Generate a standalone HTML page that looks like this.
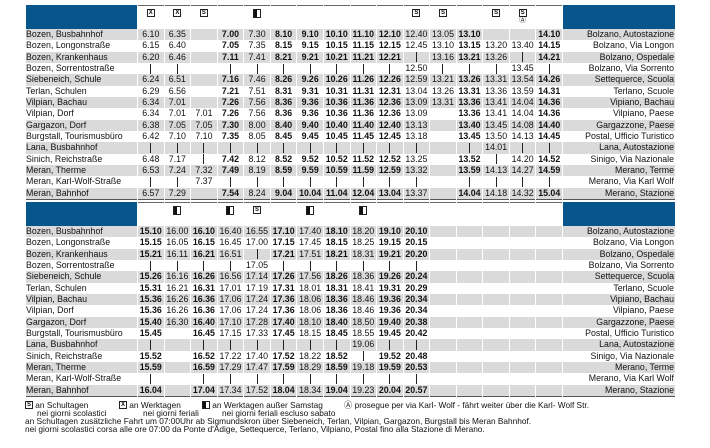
<!DOCTYPE html>
<html><head><meta charset="utf-8"><style>
body{margin:0;width:710px;height:448px;background:#fff;font-family:"Liberation Sans",Arial,sans-serif;color:#111;position:relative;overflow:hidden}
table{position:absolute;left:25px;border-collapse:separate;border-spacing:1px 0;table-layout:fixed;font-size:8.8px;width:651px}
td{padding:0;height:11.33px;line-height:11px;text-align:center;white-space:nowrap;overflow:hidden}
td.n{width:111px;text-align:left}
td.r{width:111px;text-align:right;padding-right:1px}
tr.g td{background:#dadada}
tr.h td{height:23px;background:#fff;vertical-align:top;border-top:1.5px solid #666}
tr.h td.n,tr.h td.r{background:#06568c;border-top:none}
tr.l td{border-bottom:1.5px solid #555}
#t1{top:5px}#t2{top:202px}
#t1 tr:not(.h) td:nth-child(5),#t1 tr:not(.h) td:nth-child(7),#t1 tr:not(.h) td:nth-child(8),#t1 tr:not(.h) td:nth-child(9),#t1 tr:not(.h) td:nth-child(10),#t1 tr:not(.h) td:nth-child(11),#t1 tr:not(.h) td:nth-child(14),#t1 tr:not(.h) td:nth-child(17){font-weight:bold}
#t2 tr:not(.h) td:nth-child(2),#t2 tr:not(.h) td:nth-child(4),#t2 tr:not(.h) td:nth-child(7),#t2 tr:not(.h) td:nth-child(9),#t2 tr:not(.h) td:nth-child(11),#t2 tr:not(.h) td:nth-child(12){font-weight:bold}
i{display:inline-block;width:1px;height:10px;background:#222;vertical-align:middle}
.bx{display:inline-block;width:6px;height:6px;border:1px solid #222;font-size:6px;line-height:6px;font-weight:bold;text-align:center;margin-top:3px;font-style:normal}
.hb{display:inline-block;width:6px;height:7px;border:1px solid #222;background:linear-gradient(90deg,#111 50%,#fff 50%);margin-top:3px}
.a{font-size:7px;display:block;line-height:8px}
.f{position:absolute;font-size:8.3px;line-height:8px;height:8px;white-space:nowrap}
.f .bx{margin:0;vertical-align:top;width:6px;height:6px}
.f .hb{margin:0;vertical-align:top;height:6px}
</style></head><body>
<table id="t1">
<tr class="h"><td class="n"></td><td><b class="bx">X</b></td><td><b class="bx">X</b></td><td><b class="bx">S</b></td><td></td><td><b class="hb"></b></td><td></td><td></td><td></td><td></td><td></td><td><b class="bx">S</b></td><td><b class="bx">S</b></td><td></td><td><b class="bx">S</b></td><td><b class="bx">S</b><span class="a">Ⓐ</span></td><td></td><td class="r"></td></tr>
<tr class="g"><td class="n">Bozen, Busbahnhof</td><td>6.10</td><td>6.35</td><td></td><td>7.00</td><td>7.30</td><td>8.10</td><td>9.10</td><td>10.10</td><td>11.10</td><td>12.10</td><td>12.40</td><td>13.05</td><td>13.10</td><td></td><td></td><td>14.10</td><td class="r">Bolzano, Autostazione</td></tr>
<tr><td class="n">Bozen, Longonstraße</td><td>6.15</td><td>6.40</td><td></td><td>7.05</td><td>7.35</td><td>8.15</td><td>9.15</td><td>10.15</td><td>11.15</td><td>12.15</td><td>12.45</td><td>13.10</td><td>13.15</td><td>13.20</td><td>13.40</td><td>14.15</td><td class="r">Bolzano, Via Longon</td></tr>
<tr class="g"><td class="n">Bozen, Krankenhaus</td><td>6.20</td><td>6.46</td><td></td><td>7.11</td><td>7.41</td><td>8.21</td><td>9.21</td><td>10.21</td><td>11.21</td><td>12.21</td><td><i></i></td><td>13.16</td><td>13.21</td><td>13.26</td><td><i></i></td><td>14.21</td><td class="r">Bolzano, Ospedale</td></tr>
<tr><td class="n">Bozen, Sorrentostraße</td><td><i></i></td><td><i></i></td><td></td><td><i></i></td><td><i></i></td><td><i></i></td><td><i></i></td><td><i></i></td><td><i></i></td><td><i></i></td><td>12.50</td><td><i></i></td><td><i></i></td><td><i></i></td><td>13.45</td><td><i></i></td><td class="r">Bolzano, Via Sorrento</td></tr>
<tr class="g"><td class="n">Siebeneich, Schule</td><td>6.24</td><td>6.51</td><td></td><td>7.16</td><td>7.46</td><td>8.26</td><td>9.26</td><td>10.26</td><td>11.26</td><td>12.26</td><td>12.59</td><td>13.21</td><td>13.26</td><td>13.31</td><td>13.54</td><td>14.26</td><td class="r">Settequerce, Scuola</td></tr>
<tr><td class="n">Terlan, Schulen</td><td>6.29</td><td>6.56</td><td></td><td>7.21</td><td>7.51</td><td>8.31</td><td>9.31</td><td>10.31</td><td>11.31</td><td>12.31</td><td>13.04</td><td>13.26</td><td>13.31</td><td>13.36</td><td>13.59</td><td>14.31</td><td class="r">Terlano, Scuole</td></tr>
<tr class="g"><td class="n">Vilpian, Bachau</td><td>6.34</td><td>7.01</td><td></td><td>7.26</td><td>7.56</td><td>8.36</td><td>9.36</td><td>10.36</td><td>11.36</td><td>12.36</td><td>13.09</td><td>13.31</td><td>13.36</td><td>13.41</td><td>14.04</td><td>14.36</td><td class="r">Vipiano, Bachau</td></tr>
<tr><td class="n">Vilpian, Dorf</td><td>6.34</td><td>7.01</td><td>7.01</td><td>7.26</td><td>7.56</td><td>8.36</td><td>9.36</td><td>10.36</td><td>11.36</td><td>12.36</td><td>13.09</td><td></td><td>13.36</td><td>13.41</td><td>14.04</td><td>14.36</td><td class="r">Vilpiano, Paese</td></tr>
<tr class="g"><td class="n">Gargazon, Dorf</td><td>6.38</td><td>7.05</td><td>7.05</td><td>7.30</td><td>8.00</td><td>8.40</td><td>9.40</td><td>10.40</td><td>11.40</td><td>12.40</td><td>13.13</td><td></td><td>13.40</td><td>13.45</td><td>14.08</td><td>14.40</td><td class="r">Gargazzone, Paese</td></tr>
<tr><td class="n">Burgstall, Tourismusbüro</td><td>6.42</td><td>7.10</td><td>7.10</td><td>7.35</td><td>8.05</td><td>8.45</td><td>9.45</td><td>10.45</td><td>11.45</td><td>12.45</td><td>13.18</td><td></td><td>13.45</td><td>13.50</td><td>14.13</td><td>14.45</td><td class="r">Postal, Ufficio Turistico</td></tr>
<tr class="g"><td class="n">Lana, Busbahnhof</td><td><i></i></td><td><i></i></td><td><i></i></td><td><i></i></td><td><i></i></td><td><i></i></td><td><i></i></td><td><i></i></td><td><i></i></td><td><i></i></td><td><i></i></td><td></td><td><i></i></td><td>14.01</td><td><i></i></td><td><i></i></td><td class="r">Lana, Autostazione</td></tr>
<tr><td class="n">Sinich, Reichstraße</td><td>6.48</td><td>7.17</td><td><i></i></td><td>7.42</td><td>8.12</td><td>8.52</td><td>9.52</td><td>10.52</td><td>11.52</td><td>12.52</td><td>13.25</td><td></td><td>13.52</td><td><i></i></td><td>14.20</td><td>14.52</td><td class="r">Sinigo, Via Nazionale</td></tr>
<tr class="g"><td class="n">Meran, Therme</td><td>6.53</td><td>7.24</td><td>7.32</td><td>7.49</td><td>8.19</td><td>8.59</td><td>9.59</td><td>10.59</td><td>11.59</td><td>12.59</td><td>13.32</td><td></td><td>13.59</td><td>14.13</td><td>14.27</td><td>14.59</td><td class="r">Merano, Terme</td></tr>
<tr><td class="n">Meran, Karl-Wolf-Straße</td><td><i></i></td><td><i></i></td><td>7.37</td><td><i></i></td><td><i></i></td><td><i></i></td><td><i></i></td><td><i></i></td><td><i></i></td><td><i></i></td><td><i></i></td><td></td><td><i></i></td><td><i></i></td><td><i></i></td><td><i></i></td><td class="r">Merano, Via Karl Wolf</td></tr>
<tr class="g l"><td class="n">Meran, Bahnhof</td><td>6.57</td><td>7.29</td><td></td><td>7.54</td><td>8.24</td><td>9.04</td><td>10.04</td><td>11.04</td><td>12.04</td><td>13.04</td><td>13.37</td><td></td><td>14.04</td><td>14.18</td><td>14.32</td><td>15.04</td><td class="r">Merano, Stazione</td></tr>
</table>

<table id="t2">
<tr class="h"><td class="n"></td><td></td><td><b class="hb"></b></td><td></td><td><b class="hb"></b></td><td><b class="bx">S</b></td><td></td><td><b class="hb"></b></td><td></td><td><b class="hb"></b></td><td></td><td></td><td></td><td></td><td></td><td></td><td></td><td class="r"></td></tr>
<tr class="g"><td class="n">Bozen, Busbahnhof</td><td>15.10</td><td>16.00</td><td>16.10</td><td>16.40</td><td>16.55</td><td>17.10</td><td>17.40</td><td>18.10</td><td>18.20</td><td>19.10</td><td>20.10</td><td></td><td></td><td></td><td></td><td></td><td class="r">Bolzano, Autostazione</td></tr>
<tr><td class="n">Bozen, Longonstraße</td><td>15.15</td><td>16.05</td><td>16.15</td><td>16.45</td><td>17.00</td><td>17.15</td><td>17.45</td><td>18.15</td><td>18.25</td><td>19.15</td><td>20.15</td><td></td><td></td><td></td><td></td><td></td><td class="r">Bolzano, Via Longon</td></tr>
<tr class="g"><td class="n">Bozen, Krankenhaus</td><td>15.21</td><td>16.11</td><td>16.21</td><td>16.51</td><td><i></i></td><td>17.21</td><td>17.51</td><td>18.21</td><td>18.31</td><td>19.21</td><td>20.20</td><td></td><td></td><td></td><td></td><td></td><td class="r">Bolzano, Ospedale</td></tr>
<tr><td class="n">Bozen, Sorrentostraße</td><td><i></i></td><td><i></i></td><td><i></i></td><td><i></i></td><td>17.05</td><td><i></i></td><td><i></i></td><td><i></i></td><td><i></i></td><td><i></i></td><td><i></i></td><td></td><td></td><td></td><td></td><td></td><td class="r">Bolzano, Via Sorrento</td></tr>
<tr class="g"><td class="n">Siebeneich, Schule</td><td>15.26</td><td>16.16</td><td>16.26</td><td>16.56</td><td>17.14</td><td>17.26</td><td>17.56</td><td>18.26</td><td>18.36</td><td>19.26</td><td>20.24</td><td></td><td></td><td></td><td></td><td></td><td class="r">Settequerce, Scuola</td></tr>
<tr><td class="n">Terlan, Schulen</td><td>15.31</td><td>16.21</td><td>16.31</td><td>17.01</td><td>17.19</td><td>17.31</td><td>18.01</td><td>18.31</td><td>18.41</td><td>19.31</td><td>20.29</td><td></td><td></td><td></td><td></td><td></td><td class="r">Terlano, Scuole</td></tr>
<tr class="g"><td class="n">Vilpian, Bachau</td><td>15.36</td><td>16.26</td><td>16.36</td><td>17.06</td><td>17.24</td><td>17.36</td><td>18.06</td><td>18.36</td><td>18.46</td><td>19.36</td><td>20.34</td><td></td><td></td><td></td><td></td><td></td><td class="r">Vipiano, Bachau</td></tr>
<tr><td class="n">Vilpian, Dorf</td><td>15.36</td><td>16.26</td><td>16.36</td><td>17.06</td><td>17.24</td><td>17.36</td><td>18.06</td><td>18.36</td><td>18.46</td><td>19.36</td><td>20.34</td><td></td><td></td><td></td><td></td><td></td><td class="r">Vilpiano, Paese</td></tr>
<tr class="g"><td class="n">Gargazon, Dorf</td><td>15.40</td><td>16.30</td><td>16.40</td><td>17.10</td><td>17.28</td><td>17.40</td><td>18.10</td><td>18.40</td><td>18.50</td><td>19.40</td><td>20.38</td><td></td><td></td><td></td><td></td><td></td><td class="r">Gargazzone, Paese</td></tr>
<tr><td class="n">Burgstall, Tourismusbüro</td><td>15.45</td><td></td><td>16.45</td><td>17.15</td><td>17.33</td><td>17.45</td><td>18.15</td><td>18.45</td><td>18.55</td><td>19.45</td><td>20.42</td><td></td><td></td><td></td><td></td><td></td><td class="r">Postal, Ufficio Turistico</td></tr>
<tr class="g"><td class="n">Lana, Busbahnhof</td><td><i></i></td><td></td><td><i></i></td><td><i></i></td><td><i></i></td><td><i></i></td><td><i></i></td><td><i></i></td><td>19.06</td><td><i></i></td><td><i></i></td><td></td><td></td><td></td><td></td><td></td><td class="r">Lana, Autostazione</td></tr>
<tr><td class="n">Sinich, Reichstraße</td><td>15.52</td><td></td><td>16.52</td><td>17.22</td><td>17.40</td><td>17.52</td><td>18.22</td><td>18.52</td><td><i></i></td><td>19.52</td><td>20.48</td><td></td><td></td><td></td><td></td><td></td><td class="r">Sinigo, Via Nazionale</td></tr>
<tr class="g"><td class="n">Meran, Therme</td><td>15.59</td><td></td><td>16.59</td><td>17.29</td><td>17.47</td><td>17.59</td><td>18.29</td><td>18.59</td><td>19.18</td><td>19.59</td><td>20.53</td><td></td><td></td><td></td><td></td><td></td><td class="r">Merano, Terme</td></tr>
<tr><td class="n">Meran, Karl-Wolf-Straße</td><td><i></i></td><td></td><td><i></i></td><td><i></i></td><td><i></i></td><td><i></i></td><td><i></i></td><td><i></i></td><td><i></i></td><td><i></i></td><td><i></i></td><td></td><td></td><td></td><td></td><td></td><td class="r">Merano, Via Karl Wolf</td></tr>
<tr class="g l"><td class="n">Meran, Bahnhof</td><td>16.04</td><td></td><td>17.04</td><td>17.34</td><td>17.52</td><td>18.04</td><td>18.34</td><td>19.04</td><td>19.23</td><td>20.04</td><td>20.57</td><td></td><td></td><td></td><td></td><td></td><td class="r">Merano, Stazione</td></tr>
</table>

<div class="f" style="left:25px;top:401px"><b class="bx">S</b> an Schultagen</div>
<div class="f" style="left:37px;top:409px">nei giorni scolastici</div>
<div class="f" style="left:119px;top:401px"><b class="bx">X</b> an Werktagen</div>
<div class="f" style="left:143px;top:409px">nei giorni feriali</div>
<div class="f" style="left:202px;top:401px"><b class="hb"></b> an Werktagen außer Samstag</div>
<div class="f" style="left:222px;top:409px">nei giorni feriali escluso sabato</div>
<div class="f" style="left:344px;top:401px">Ⓐ prosegue per via Karl- Wolf - fährt weiter über die Karl- Wolf Str.</div>
<div class="f" style="left:25px;top:417px">an Schultagen zusätzliche Fahrt um 07:00Uhr ab Sigmundskron über Siebeneich, Terlan, Vilpian, Gargazon, Burgstall bis Meran Bahnhof.</div>
<div class="f" style="left:25px;top:425px">nei giorni scolastici corsa alle ore 07:00 da Ponte d'Adige, Settequerce, Terlano, Vilpiano, Postal fino alla Stazione di Merano.</div>
</body></html>
